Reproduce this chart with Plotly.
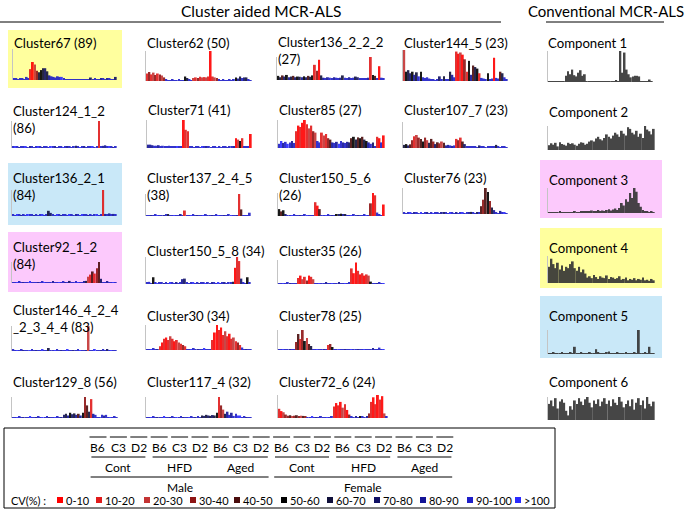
import plotly.graph_objects as go

W, H = 685, 513
FONT = "Lato"

# ---------------- CV classes ----------------
CV_LABELS = ["0-10", "10-20", "20-30", "30-40", "40-50", "50-60",
             "60-70", "70-80", "80-90", "90-100", ">100"]
CV_COLORS = ["#ff0000", "#e01b1b", "#c43434", "#8e1414", "#4a0c0c", "#000000",
             "#10103a", "#101064", "#141496", "#1e1ec8", "#2a2aff"]
GRAY = "#333333"

# ---------------- panel data (relative intensity, CV class) ----------------
c67_h = [4,4,3,4,4,3,10,4,35,58, 50,30,25,32,38,38,28,15,12,10, 8,12,10,10,5,3,3,2,3,3,
         2,2,3,2,3,3,3,8,3,4, 2,3,5,4,3,6,4,3,3,10]
c67_cv = [9,9,9,9,9,9,9,9,1,0, 2,3,6,5,6,7,6,8,9,9, 9,9,9,10,9,9,9,9,9,9,
          9,9,9,9,9,9,9,7,9,9, 9,9,8,9,9,8,9,9,9,7]

c62_h = [25,30,22,28,20,25,22,18,12,4, 3,3,4,3,3,5,3,3,15,10, 4,3,10,12,10,14,12,13,12,15,
         100,15,12,10,4,3,4,3,3,4, 3,4,12,8,15,10,12,12,6,3]
c62_cv = [1,3,1,2,3,1,3,2,3,9, 9,9,9,9,9,9,9,9,5,6, 9,9,2,1,3,1,2,1,2,1,
          0,1,2,3,9,9,9,9,9,9, 9,9,5,8,6,9,7,6,9,9]

c136222_h = [18,12,20,15,22,12,15,18,12,15, 14,12,16,12,18,14,20,66,40,88, 20,10,8,12,10,8,12,10,8,10,
             20,10,8,12,8,10,15,12,6,6, 8,6,10,100,22,18,8,60,10,8]
c136222_cv = [5,6,4,7,5,8,6,4,7,5, 6,8,5,7,4,6,5,1,3,0, 6,8,9,8,9,9,8,9,9,8,
              6,9,9,8,9,9,6,7,9,9, 9,9,8,1,5,4,9,0,9,9]

c1445_h = [100,30,35,25,30,20,28,15,30,12, 10,12,8,6,4,3,4,15,4,15, 5,4,30,20,12,95,88,92,85,70,
           30,65,20,50,45,40,25,10,8,4, 25,4,8,75,10,8,30,25,12,5]
c1445_cv = [2,5,6,7,5,8,6,9,5,9, 9,9,9,9,9,9,9,7,9,6, 9,9,6,8,9,1,0,2,0,3,
            1,5,8,4,6,5,1,9,9,9, 5,9,9,0,9,9,4,6,9,9]

comp1_h = [2,2,2,3,2,2,2,3,20,35, 25,40,22,18,30,38,20,25,3,3, 3,2,3,2,3,2,3,2,2,3,
           2,3,4,3,100,30,95,40,25,15, 18,20,20,18,3,3,2,3,8,2]

c12412_h = [5,4,5,3,4,5,4,3,5,4, 3,4,5,4,3,4,5,3,4,5, 4,3,4,5,3,4,5,4,3,4,
            8,4,3,5,4,3,4,5,4,3, 4,100,4,8,10,6,4,5,3,4]
c12412_cv = [9,10,9,8,9,9,10,9,8,9, 9,9,10,9,8,9,9,9,10,9, 8,9,9,9,10,9,8,9,9,9,
             7,9,10,9,8,9,9,9,10,9, 9,1,9,8,8,9,10,9,8,9]

c71_h = [12,12,10,8,8,10,6,8,7,6, 8,6,7,5,6,5,6,100,65,60, 5,4,3,4,5,3,4,5,6,4,
         3,4,5,3,4,3,5,4,3,5, 4,6,35,30,25,35,5,4,5,50]
c71_cv = [8,8,8,9,9,8,9,9,9,9, 9,9,9,9,10,9,9,0,1,1, 9,9,9,9,9,9,10,9,8,9,
          9,9,9,10,9,9,9,9,9,9, 9,8,0,2,5,1,9,9,9,0]

c85_h = [15,25,18,22,15,20,25,18,60,80, 75,90,100,85,70,80,60,55,25,20, 55,45,50,35,30,20,18,22,15,25,
         20,18,22,20,35,40,30,38,35,40, 30,25,20,15,20,5,40,35,20,45]
c85_cv = [9,10,8,9,10,9,8,9,1,0, 1,0,0,1,2,1,3,2,9,9, 1,2,1,3,4,8,9,8,10,9,
          8,9,8,7,4,5,6,4,5,4, 6,5,8,9,7,9,1,0,9,0]

c1077_h = [12,15,10,14,30,45,50,40,35,25, 40,30,20,35,25,15,22,18,25,20, 10,12,10,8,10,35,30,40,25,15,
           5,4,6,5,4,3,10,4,5,3, 4,6,5,4,12,4,3,5,4,3]
c1077_cv = [6,5,7,4,3,1,2,3,4,5, 3,2,6,4,3,7,4,3,2,4, 8,8,9,8,9,1,3,1,4,7,
            9,9,9,9,9,9,7,9,9,9, 9,9,9,9,6,9,9,9,9,9]

comp2_h = [20,28,22,30,15,32,25,22,18,30, 25,28,22,18,26,32,30,22,26,35, 40,35,48,55,45,40,50,65,55,48,
           60,72,65,55,80,68,60,95,88,72, 65,80,55,68,50,100,85,78,65,88]

c13621_h = [4,3,4,5,3,4,3,4,5,4, 3,4,3,5,4,3,4,20,12,4, 3,4,5,3,4,4,3,5,4,3,
            4,5,3,4,4,5,3,4,3,5, 4,3,4,100,8,4,10,4,8,4]
c13621_cv = [9,9,10,9,8,9,9,10,9,9, 8,9,9,9,10,9,9,6,7,9, 9,10,9,8,9,9,9,10,9,9,
             8,9,9,10,9,9,8,9,9,9, 10,9,9,1,8,9,8,9,8,9]

c137245_h = [4,3,4,3,5,4,3,4,3,5, 8,4,3,4,3,4,5,4,25,4, 3,4,5,3,4,3,4,3,5,4,
             3,4,3,5,4,3,4,3,4,5, 3,4,3,4,100,30,4,3,4,15]
c137245_cv = [9,9,8,9,9,10,9,9,8,9, 6,9,9,10,9,9,8,9,1,9, 9,10,9,9,8,9,9,10,9,9,
              9,8,9,9,10,9,9,8,9,9, 10,9,9,8,1,4,9,9,9,9]

c15056_h = [30,20,25,8,4,3,4,5,3,4, 3,4,5,3,4,3,4,60,45,30, 4,3,4,5,3,4,3,8,6,10,
            6,8,4,3,4,5,3,4,3,4, 5,3,4,55,100,90,15,5,4,50]
c15056_cv = [5,4,5,7,9,9,10,9,9,9, 8,9,9,10,9,9,9,1,0,4, 9,9,10,9,9,8,9,5,7,5,
             8,6,9,9,10,9,9,8,9,9, 9,10,9,3,0,1,9,9,9,0]

c76_h = [4,3,5,4,3,4,5,3,4,3, 5,4,3,4,3,5,4,3,4,6, 4,3,5,4,3,4,3,5,4,3,
         4,5,8,4,3,6,5,30,55,100, 85,50,25,15,4,3,12,4,5,3]
c76_cv = [9,9,9,10,9,8,9,9,10,9, 9,8,9,9,10,9,9,9,8,7, 9,9,10,9,9,8,9,9,10,9,
          9,8,6,9,9,7,9,4,3,4, 5,3,6,8,9,9,8,9,10,9]

comp3_h = [3,4,3,4,3,5,3,4,3,4, 3,4,5,3,4,5,6,8,5,7, 10,6,8,12,7,10,8,12,15,10,
           14,18,12,20,40,30,55,45,80,60, 100,85,40,25,12,6,5,4,5,3]

c9212_h = [4,3,4,5,3,4,3,4,5,4, 3,4,3,4,5,3,4,3,4,5, 3,4,3,4,5,4,3,10,4,3,
           5,4,3,4,5,10,30,40,55,45, 70,100,20,4,3,5,4,3,4,3]
c9212_cv = [9,9,10,9,9,8,9,9,10,9, 9,9,8,9,9,10,9,9,9,8, 9,9,10,9,9,8,9,7,9,9,
            9,10,9,9,8,6,2,1,4,1, 3,4,7,9,9,8,9,9,10,9]

c15058_h = [4,8,3,25,4,3,4,5,3,4, 3,4,5,3,4,3,4,18,20,4, 3,4,5,3,4,3,4,5,3,4,
            3,4,5,3,4,3,5,4,3,4, 5,8,60,100,85,20,4,3,25,4]
c15058_cv = [9,9,9,5,9,10,9,9,8,9, 9,10,9,9,8,9,9,8,7,9, 9,9,10,9,9,8,9,9,10,9,
             9,8,9,9,10,9,9,8,9,9, 9,6,0,1,1,7,9,9,5,9]

c35_h = [3,4,3,4,5,3,4,3,4,25, 35,20,30,15,35,30,20,4,3,4, 3,4,5,3,4,3,4,3,5,4,
         3,4,3,5,65,45,90,55,40,45, 35,40,35,10,4,3,4,5,3,4]
c35_cv = [9,9,10,9,9,8,9,9,9,1, 0,2,1,3,0,1,2,9,9,10, 9,9,8,9,9,10,9,9,8,9,
          9,10,9,9,1,0,0,1,0,1, 0,1,2,5,9,9,8,9,9,10]

comp4_h = [60,90,70,55,75,50,65,45,60,55, 70,80,55,45,60,40,50,35,20,25, 18,30,22,15,25,20,18,28,15,22,
           20,15,18,25,12,15,20,10,15,12, 18,10,15,12,20,10,12,8,15,10]

c146_h = [5,4,3,4,5,3,4,3,4,5, 3,4,3,4,5,3,4,12,4,3, 4,5,3,4,3,4,5,3,4,3,
          4,5,3,4,3,4,100,4,3,5, 4,3,4,5,3,6,4,3,4,3]
c146_cv = [9,9,10,9,9,8,9,9,10,9, 9,8,9,9,10,9,9,6,9,9, 10,9,9,8,9,9,10,9,9,8,
           9,9,10,9,9,8,2,9,9,10, 9,9,8,9,9,7,9,10,9,9]

c30_h = [4,3,4,5,3,4,15,30,45,50, 40,55,45,35,40,30,25,20,15,4, 3,4,5,3,4,3,4,5,3,4,
         3,40,70,100,80,90,60,75,55,65, 45,50,35,30,20,10,4,3,4,3]
c30_cv = [9,9,10,9,9,8,1,0,1,0, 1,2,1,0,1,2,1,3,1,9, 9,10,9,9,8,9,9,10,9,9,
          9,1,0,0,1,0,1,2,1,0, 1,2,1,3,1,9,9,8,9,9]

c78_h = [4,3,4,5,3,4,3,4,40,80, 55,100,45,60,30,20,4,3,4,5, 3,4,3,25,30,15,4,3,4,5,
         3,4,3,4,5,3,4,3,4,5, 3,4,3,4,10,4,3,12,4,3]
c78_cv = [9,9,10,9,9,8,9,9,3,4, 1,3,5,2,4,6,9,9,10,9, 9,8,9,1,3,5,9,9,10,9,
          9,8,9,9,10,9,9,8,9,9, 10,9,9,9,8,9,9,9,9,10]

comp5_h = [4,3,5,4,3,4,5,3,4,3, 5,4,30,4,3,5,4,3,4,5, 3,4,20,5,3,4,3,5,10,4,
           3,4,5,3,4,3,5,4,3,4, 5,4,100,4,3,5,4,30,4,3]

c1298_h = [4,3,4,5,3,4,3,4,5,3, 4,3,5,4,3,4,5,3,4,3, 4,5,3,4,15,20,12,25,18,22,
           15,20,12,25,100,60,30,90,20,15, 4,3,15,12,15,4,3,4,5,3]
c1298_cv = [9,9,10,9,9,8,9,9,10,9, 9,8,9,9,10,9,9,8,9,9, 10,9,9,8,7,6,8,5,7,6,
            8,4,8,5,3,4,6,1,8,9, 9,9,9,8,9,9,10,9,9,9]

c1174_h = [4,3,4,5,3,4,3,4,5,3, 4,3,5,4,3,4,5,3,4,3, 4,5,3,4,5,4,12,10,15,12,
           10,14,12,25,100,60,40,20,30,15, 25,10,20,12,12,4,5,3,4,3]
c1174_cv = [9,9,10,9,9,8,9,9,10,9, 9,8,9,9,10,9,9,8,9,9, 10,9,9,8,9,9,6,7,6,7,
            6,7,6,5,1,3,2,6,8,9, 8,9,9,10,10,9,9,8,9,9]

c726_h = [40,30,25,15,10,12,8,10,12,8, 10,9,8,4,3,5,4,3,4,5, 3,4,3,4,5,50,65,55,70,45,
          60,35,15,5,4,6,4,8,5,4, 6,20,70,90,60,100,80,95,20,5]
c726_cv = [1,0,2,3,3,4,2,3,4,3, 2,4,3,9,9,10,9,8,9,9, 9,9,10,9,9,1,0,1,0,2,
           1,0,3,9,9,8,9,5,9,9, 8,3,1,0,1,0,1,0,2,9]

comp6_h = [70,85,60,95,50,80,90,75,40,20, 60,45,85,70,95,80,65,90,100,75, 55,85,70,90,60,80,95,70,85,60,
           90,75,65,100,80,55,70,85,60,90, 45,75,95,65,85,50,100,70,60,80]

# legend texts
STRAINS = ["B6", "C3", "D2"]
DIETS = ["Cont", "HFD", "Aged"]
SEXES = ["Male", "Female"]

# ---------------- panel layout: (x0, x1, top, baseline) in px, title lines, title pos ----------------
panels = [
    (["Cluster67 (89)"], c67_h, c67_cv, (13, 117, 49, 80), (13, 43)),
    (["Cluster62 (50)"], c62_h, c62_cv, (146, 252, 51, 81), (146, 43)),
    (["Cluster136_2_2_2", "(27)"], c136222_h, c136222_cv, (277, 385, 57, 80), (277, 42)),
    (["Cluster144_5 (23)"], c1445_h, c1445_cv, (403, 508, 50, 81), (403, 43)),
    (["Component 1"], comp1_h, None, (548, 653, 51, 82), (547, 43)),
    (["Cluster124_1_2", "(86)"], c12412_h, c12412_cv, (12, 117, 121, 148), (12, 111)),
    (["Cluster71 (41)"], c71_h, c71_cv, (147, 252, 120, 148), (147, 110)),
    (["Cluster85 (27)"], c85_h, c85_cv, (278, 385, 120, 148), (278, 110)),
    (["Cluster107_7 (23)"], c1077_h, c1077_cv, (403, 508, 122, 148), (403, 110)),
    (["Component 2"], comp2_h, None, (548, 655, 126, 150), (548, 112)),
    (["Cluster136_2_1", "(84)"], c13621_h, c13621_cv, (12, 117, 190, 216), (12, 178)),
    (["Cluster137_2_4_5", "(38)"], c137245_h, c137245_cv, (146, 251, 194, 216), (146, 178)),
    (["Cluster150_5_6", "(26)"], c15056_h, c15056_cv, (278, 385, 193, 216), (278, 178)),
    (["Cluster76 (23)"], c76_h, c76_cv, (403, 508, 188, 214), (403, 178)),
    (["Component 3"], comp3_h, None, (548, 655, 188, 213), (548, 180)),
    (["Cluster92_1_2", "(84)"], c9212_h, c9212_cv, (12, 117, 262, 283), (12, 247)),
    (["Cluster150_5_8 (34)"], c15058_h, c15058_cv, (146, 251, 257, 284), (146, 251)),
    (["Cluster35 (26)"], c35_h, c35_cv, (278, 385, 260, 284), (278, 251)),
    (["Component 4"], comp4_h, None, (548, 655, 256, 283), (548, 248)),
    (["Cluster146_4_2_4", "_2_3_4_4 (83)"], c146_h, c146_cv, (12, 117, 326, 351), (12, 310)),
    (["Cluster30 (34)"], c30_h, c30_cv, (146, 252, 325, 350), (146, 316)),
    (["Cluster78 (25)"], c78_h, c78_cv, (278, 385, 330, 350), (278, 316)),
    (["Component 5"], comp5_h, None, (548, 655, 330, 354), (548, 316)),
    (["Cluster129_8 (56)"], c1298_h, c1298_cv, (12, 118, 397, 418), (12, 382)),
    (["Cluster117_4 (32)"], c1174_h, c1174_cv, (146, 252, 397, 418), (146, 382)),
    (["Cluster72_6 (24)"], c726_h, c726_cv, (278, 388, 395, 418), (278, 382)),
    (["Component 6"], comp6_h, None, (548, 655, 397, 420), (548, 382)),
]

highlight_boxes = [
    ((8, 30, 122, 88), "#ffff9e"),
    ((540, 228, 662, 288), "#ffff9e"),
    ((8, 163, 122, 225), "#c9e8f8"),
    ((540, 296, 662, 358), "#c9e8f8"),
    ((8, 232, 122, 292), "#fcc9fc"),
    ((540, 160, 662, 218), "#fcc9fc"),
]


def px(x):
    return x / W


def py(y):
    return 1 - y / H


fig = go.Figure()
layout = {}
annotations = []
shapes = []

for k, (title, hvals, cvs, box, tpos) in enumerate(panels, start=1):
    xa = "x" if k == 1 else f"x{k}"
    ya = "y" if k == 1 else f"y{k}"
    n = len(hvals)
    colors = [GRAY] * n if cvs is None else [CV_COLORS[c] for c in cvs]
    fig.add_trace(go.Bar(x=list(range(n)), y=hvals, xaxis=xa, yaxis=ya,
                         marker=dict(color=colors, line=dict(width=0)),
                         opacity=0.9, showlegend=False, hoverinfo="skip"))
    x0, x1, top, base = box
    layout["xaxis" if k == 1 else f"xaxis{k}"] = dict(
        domain=[px(x0), px(x1)], range=[-0.6, n - 0.4], visible=False,
        anchor=ya, fixedrange=True)
    layout["yaxis" if k == 1 else f"yaxis{k}"] = dict(
        domain=[py(base), py(top)], range=[0, 100], showline=True,
        linecolor="#c4c4c4", linewidth=1, showgrid=False, zeroline=False,
        showticklabels=False, ticks="", anchor=xa, fixedrange=True)
    tx, ty = tpos
    for j, line in enumerate(title):
        annotations.append(dict(text=line, x=px(tx - 1), y=py(ty + 17 * j), xref="paper", yref="paper",
                                xanchor="left", yanchor="middle", showarrow=False,
                                font=dict(family=FONT, size=13.2, color="#000")))

for (x0, y0, x1, y1), col in highlight_boxes:
    shapes.append(dict(type="rect", xref="paper", yref="paper", x0=px(x0), x1=px(x1),
                       y0=py(y1), y1=py(y0), fillcolor=col, line=dict(width=0), layer="below"))

# headers
annotations.append(dict(text="Cluster aided MCR-ALS", x=px(261), y=py(11), xref="paper", yref="paper",
                        xanchor="center", yanchor="middle", showarrow=False,
                        font=dict(family=FONT, size=15.5, color="#000")))
annotations.append(dict(text="Conventional MCR-ALS", x=px(606), y=py(11), xref="paper", yref="paper",
                        xanchor="center", yanchor="middle", showarrow=False,
                        font=dict(family=FONT, size=15, color="#000")))
for (x0, x1) in [(0, 501), (546, 664)]:
    shapes.append(dict(type="line", xref="paper", yref="paper", x0=px(x0), x1=px(x1),
                       y0=py(22), y1=py(22), line=dict(color="#000", width=1)))

# legend box
shapes.append(dict(type="rect", xref="paper", yref="paper", x0=px(4), x1=px(555),
                   y0=py(508), y1=py(428), line=dict(color="#000", width=1), fillcolor="rgba(0,0,0,0)"))

lab_x0, lab_dx = 98, 20.4
labels = [s for _ in range(len(SEXES) * len(DIETS)) for s in STRAINS]
for i, lab in enumerate(labels):
    cx = lab_x0 + lab_dx * i
    shapes.append(dict(type="line", xref="paper", yref="paper", x0=px(cx - 8.5), x1=px(cx + 8.5),
                       y0=py(437), y1=py(437), line=dict(color="#000", width=1)))
    annotations.append(dict(text=lab, x=px(cx), y=py(447), xref="paper", yref="paper",
                            xanchor="center", yanchor="middle", showarrow=False,
                            font=dict(family=FONT, size=12, color="#000")))
groups = [d for _ in SEXES for d in DIETS]
for g, lab in enumerate(groups):
    cx = lab_x0 + lab_dx * (3 * g + 1)
    shapes.append(dict(type="line", xref="paper", yref="paper", x0=px(cx - 27), x1=px(cx + 27),
                       y0=py(457), y1=py(457), line=dict(color="#000", width=1)))
    annotations.append(dict(text=lab, x=px(cx), y=py(467), xref="paper", yref="paper",
                            xanchor="center", yanchor="middle", showarrow=False,
                            font=dict(family=FONT, size=12, color="#000")))
for s, lab in enumerate(SEXES):
    cx = lab_x0 + lab_dx * (9 * s + 4)
    shapes.append(dict(type="line", xref="paper", yref="paper", x0=px(cx - 89), x1=px(cx + 89),
                       y0=py(477), y1=py(477), line=dict(color="#000", width=1)))
    annotations.append(dict(text=lab, x=px(cx), y=py(487), xref="paper", yref="paper",
                            xanchor="center", yanchor="middle", showarrow=False,
                            font=dict(family=FONT, size=12, color="#000")))

annotations.append(dict(text="CV(%) :", x=px(9), y=py(500), xref="paper", yref="paper",
                        xanchor="left", yanchor="middle", showarrow=False,
                        font=dict(family=FONT, size=11, color="#000")))
cv_x = [57, 96, 144, 190, 234, 281, 327, 374, 420, 467, 515]
for xx, lab, col in zip(cv_x, CV_LABELS, CV_COLORS):
    shapes.append(dict(type="rect", xref="paper", yref="paper", x0=px(xx), x1=px(xx + 6),
                       y0=py(503), y1=py(497), fillcolor=col, line=dict(width=0)))
    annotations.append(dict(text=lab, x=px(xx + 7), y=py(500), xref="paper", yref="paper",
                            xanchor="left", yanchor="middle", showarrow=False,
                            font=dict(family=FONT, size=11, color="#000")))

fig.update_layout(width=W, height=H, margin=dict(l=0, r=0, t=0, b=0),
                  paper_bgcolor="white", plot_bgcolor="rgba(0,0,0,0)",
                  bargap=0.12, annotations=annotations, shapes=shapes, **layout)

fig.write_html("out.html", config={"displayModeBar": False},
               post_script="document.body.style.margin='0';document.body.style.padding='0';"
                           "document.body.style.overflow='hidden';")
